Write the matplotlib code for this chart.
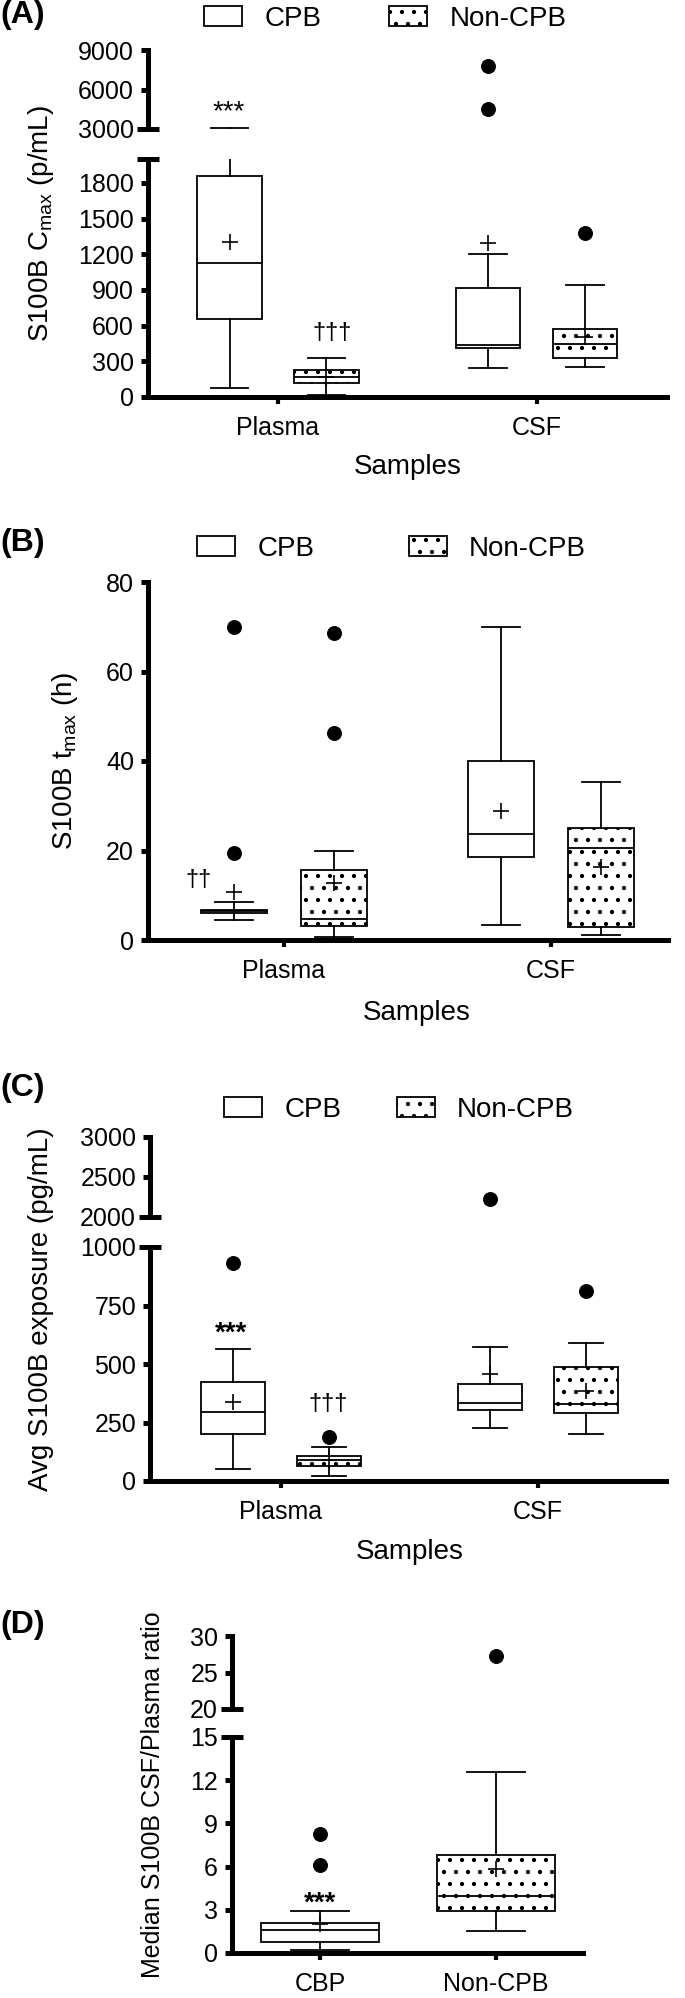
import matplotlib
matplotlib.use('Agg')
import matplotlib.pyplot as plt
from matplotlib.patches import Patch

plt.rcParams['font.family'] = ['Liberation Sans', 'DejaVu Sans']
plt.rcParams['mathtext.fontset'] = 'custom'
plt.rcParams['mathtext.rm'] = 'Liberation Sans'
plt.rcParams['mathtext.it'] = 'Liberation Sans:italic'

# the figure is drawn at 72 dpi so the dotted hatch gets the tighter
# spacing of the original; K converts sizes picked for 100 dpi
DPI = 72
K = 100 / DPI
plt.rcParams['hatch.linewidth'] = 1.8

W, H = 685, 1998

# box order for A-C: Plasma CPB, Plasma Non-CPB, CSF CPB, CSF Non-CPB
samples = ['Plasma', 'CSF']
groups = ['CPB', 'Non-CPB']
hatched = [False, True, False, True]

# (A) S100B Cmax (p/mL)
a_whislo = [76, 18, 244, 250]
a_q1 = [659, 121, 412, 328]
a_med = [1127, 168, 440, 443]
a_q3 = [1859, 224, 917, 569]
a_whishi = [3050, 331, 1200, 945]
a_mean = [1306, 170, 1290, 505]
a_fliers = [[], [], [4494, 7810], [1379]]

# (B) S100B tmax (h)
b_whislo = [4.5, 0.75, 3.35, 1.1]
b_q1 = [6.05, 3.1, 18.6, 2.8]
b_med = [6.4, 4.8, 23.7, 20.6]
b_q3 = [6.75, 15.6, 39.9, 25.1]
b_whishi = [8.6, 19.9, 70.0, 35.4]
b_mean = [10.7, 12.7, 28.8, 16.4]
b_fliers = [[19.4, 69.9], [46.2, 68.7], [], []]

# (C) Avg S100B exposure (pg/mL)
c_whislo = [50, 21, 225, 200]
c_q1 = [199, 65, 303, 289]
c_med = [296, 90, 334, 329]
c_q3 = [424, 107, 414, 488]
c_whishi = [562, 147, 573, 590]
c_mean = [339, 90, 459, 385]
c_fliers = [[932], [189], [2227], [812]]

# (D) Median CSF/Plasma ratio
d_labels = ['CBP', 'Non-CPB']
d_whislo = [0.23, 1.5]
d_q1 = [0.76, 2.89]
d_med = [1.57, 3.94]
d_q3 = [2.08, 6.78]
d_whishi = [2.89, 12.6]
d_mean = [2.0, 5.86]
d_fliers = [[6.13, 8.29], [27.3]]

LW_AX = 3.6 * K
LW_BOX = 1.3 * K

fig = plt.figure(figsize=(W / DPI, H / DPI), dpi=DPI)


def px_axes(x0, y0, x1, y1):
    return fig.add_axes([x0 / W, 1 - y1 / H, (x1 - x0) / W, (y1 - y0) / H])


def stats(whislo, q1, med, q3, whishi, mean, fliers):
    out = []
    for i in range(len(q1)):
        out.append(dict(whislo=whislo[i], q1=q1[i], med=med[i], q3=q3[i],
                        whishi=whishi[i], mean=mean[i], fliers=fliers[i]))
    return out


def draw_boxes(ax, st, pos, width, capw, hatch):
    res = ax.bxp(st, positions=pos, widths=width, capwidths=capw,
                 patch_artist=True, showmeans=True, manage_ticks=False,
                 boxprops=dict(facecolor='white', edgecolor='black', linewidth=LW_BOX),
                 medianprops=dict(color='black', linewidth=LW_BOX),
                 whiskerprops=dict(color='black', linewidth=LW_BOX),
                 capprops=dict(color='black', linewidth=LW_BOX),
                 meanprops=dict(marker='+', markersize=11 * K, markeredgecolor='black',
                                markeredgewidth=1.2 * K),
                 flierprops=dict(marker='o', markersize=10 * K, markerfacecolor='black',
                                 markeredgecolor='black', linestyle='none'))
    for box, h in zip(res['boxes'], hatch):
        if h:
            box.set_hatch('.')


def style(ax, ticks, ylim, xlim, bottom=True):
    ax.set_ylim(*ylim)
    ax.set_xlim(*xlim)
    ax.spines['top'].set_visible(False)
    ax.spines['right'].set_visible(False)
    ax.spines['left'].set_linewidth(LW_AX)
    ax.spines['bottom'].set_linewidth(LW_AX)
    ax.set_yticks(ticks)
    ax.set_yticklabels([str(t) for t in ticks])
    ax.tick_params(axis='y', width=LW_AX, length=5 * K, labelsize=18 * K, pad=5 * K)
    ax.tick_params(axis='x', width=3.0 * K, length=5 * K, labelsize=18 * K, pad=9 * K)
    ax.patch.set_alpha(0)
    if not bottom:
        ax.spines['bottom'].set_visible(False)
        ax.set_xticks([])


def break_bar(ax, y, x0, x1):
    d = 11 / (x1 - x0)
    ax.plot([-d, d], [y, y], transform=ax.transAxes, color='black', lw=LW_AX,
            solid_capstyle='butt', clip_on=False)


def xlims(x0, x1, c0, c1):
    return ((x0 - c0) / (c1 - c0), (x1 - c0) / (c1 - c0))


def legend(x_left, y_mid, colsp):
    handles = [Patch(facecolor='white', edgecolor='black', lw=LW_BOX, label=groups[0]),
               Patch(facecolor='white', edgecolor='black', lw=LW_BOX, hatch='.', label=groups[1])]
    fig.legend(handles=handles, loc='center left', bbox_to_anchor=(x_left / W, 1 - y_mid / H),
               ncol=2, frameon=False, fontsize=20 * K, borderpad=0, borderaxespad=0,
               handlelength=1.37, handleheight=0.75, handletextpad=0.8, columnspacing=colsp)


def ftext(x, y, s, size, **kw):
    fig.text(x / W, 1 - y / H, s, ha='center', va='center', fontsize=size * K, **kw)


off = 0.187
pos4 = [-off, off, 1 - off, 1 + off]

# ---------- (A)
x0, x1 = 148, 667
xl = xlims(x0, x1, 278, 536.5)
st = stats(a_whislo, a_q1, a_med, a_q3, a_whishi, a_mean, a_fliers)
up = px_axes(x0, 50, x1, 129)
lo = px_axes(x0, 159, x1, 397)
for ax in (up, lo):
    draw_boxes(ax, st, pos4, 0.25, 0.145, hatched)
style(up, [3000, 6000, 9000], (3000, 9000), xl, bottom=False)
style(lo, list(range(0, 2000, 300)), (0, 2000), xl)
lo.set_xticks([0, 1])
lo.set_xticklabels(samples)
break_bar(up, 0, x0, x1)
break_bar(lo, 1, x0, x1)
ftext(23, 15, '(A)', 23, fontweight='bold')
ftext(41, 223, 'S100B C$_{\\mathrm{max}}$ (p/mL)', 20, rotation=90)
ftext(408, 467, 'Samples', 20)
ftext(229, 112, '***', 20)
ftext(332, 333, '\u2020\u2020\u2020', 17)
legend(204, 19, 2.45)

# ---------- (B)
x0, x1 = 148, 668
xl = xlims(x0, x1, 284, 551)
st = stats(b_whislo, b_q1, b_med, b_q3, b_whishi, b_mean, b_fliers)
ax = px_axes(x0, 582, x1, 940)
draw_boxes(ax, st, pos4, 0.25, 0.14, hatched)
style(ax, [0, 20, 40, 60, 80], (0, 80), xl)
ax.set_xticks([0, 1])
ax.set_xticklabels(samples)
ftext(23, 543, '(B)', 23, fontweight='bold')
ftext(65, 761, 'S100B t$_{\\mathrm{max}}$ (h)', 20, rotation=90)
ftext(417, 1013, 'Samples', 20)
ftext(199, 880, '\u2020\u2020', 17)
legend(197, 549, 3.4)

# ---------- (C)
x0, x1 = 150, 666
xl = xlims(x0, x1, 281, 538)
st = stats(c_whislo, c_q1, c_med, c_q3, c_whishi, c_mean, c_fliers)
up = px_axes(x0, 1137, x1, 1217)
lo = px_axes(x0, 1247, x1, 1481)
for ax in (up, lo):
    draw_boxes(ax, st, pos4, 0.25, 0.135, hatched)
style(up, [2000, 2500, 3000], (2000, 3000), xl, bottom=False)
style(lo, [0, 250, 500, 750, 1000], (0, 1000), xl)
lo.set_xticks([0, 1])
lo.set_xticklabels(samples)
break_bar(up, 0, x0, x1)
break_bar(lo, 1, x0, x1)
ftext(23, 1088, '(C)', 23, fontweight='bold')
ftext(41, 1309, 'Avg S100B exposure (pg/mL)', 20, rotation=90)
ftext(410, 1552, 'Samples', 20)
ftext(231, 1334, '***', 20, fontweight='bold')
ftext(328, 1404, '\u2020\u2020\u2020', 17)
legend(224, 1110, 2.0)

# ---------- (D)
x0, x1 = 232, 583
xl = xlims(x0, x1, 320, 496)
st = stats(d_whislo, d_q1, d_med, d_q3, d_whishi, d_mean, d_fliers)
up = px_axes(x0, 1636, x1, 1709)
lo = px_axes(x0, 1737, x1, 1953)
for ax in (up, lo):
    draw_boxes(ax, st, [0, 1], 0.665, 0.324, [False, True])
style(up, [20, 25, 30], (20, 30), xl, bottom=False)
style(lo, [0, 3, 6, 9, 12, 15], (0, 15), xl)
lo.set_xticks([0, 1])
lo.set_xticklabels(d_labels)
break_bar(up, 0, x0, x1)
break_bar(lo, 1, x0, x1)
ftext(23, 1625, '(D)', 23, fontweight='bold')
ftext(153, 1795, 'Median S100B CSF/Plasma ratio', 18, rotation=90)
ftext(320, 1904, '***', 20, fontweight='bold')

fig.savefig('out.png', dpi=DPI)
